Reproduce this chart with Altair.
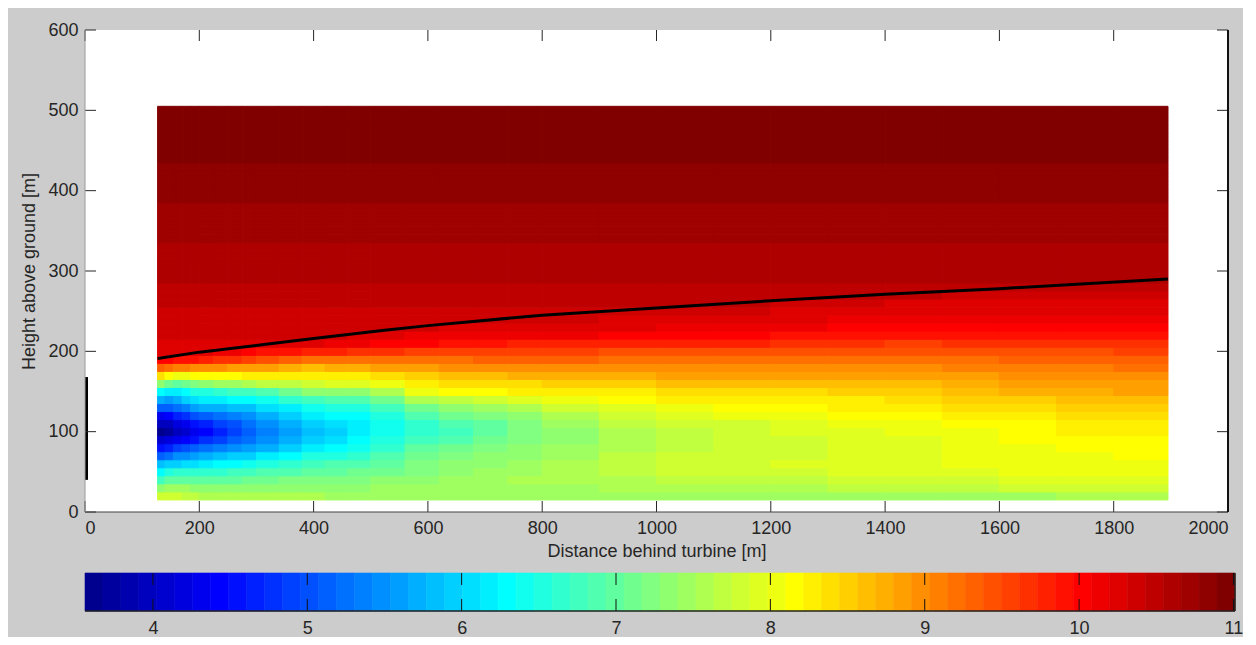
import altair as alt
import pandas as pd

# ---------------- values ----------------
x_ticks = [0, 200, 400, 600, 800, 1000, 1200, 1400, 1600, 1800, 2000]
y_ticks = [0, 100, 200, 300, 400, 500, 600]
cbar_ticks = [4, 5, 6, 7, 8, 9, 10, 11]
speed_range = [3.56, 11.01]          # colour limits of the colorbar [m/s]

# column boundaries of the wind-speed field (distance behind turbine, m)
column_edges = [127, 140, 155, 170, 185, 200, 225, 250, 275, 300, 340, 380, 420,
                460, 500, 560, 620, 680, 740, 800, 900, 1000, 1100, 1200, 1300,
                1400, 1500, 1600, 1700, 1800, 1895]
# centres of the 10 m rows of the field (15 .. 505 m)
row_heights = list(range(20, 510, 10))

# undisturbed (above the wake) wind speed profile
ambient_heights = list(range(190, 510, 10))
ambient_speed = [10.25, 10.28, 10.305, 10.335, 10.365, 10.395, 10.425, 10.46,
                 10.495, 10.53, 10.555, 10.58, 10.605, 10.63, 10.655, 10.68,
                 10.70, 10.725, 10.745, 10.77, 10.79, 10.81, 10.835, 10.855,
                 10.875, 10.895, 10.915, 10.93, 10.945, 10.96, 10.975, 10.99]

# wake profiles, one per column, from 20 m upward (rows above -> ambient)
wake_profiles = [
    [7.85, 7.35, 6.8, 6.25, 5.8, 5.1, 4.6, 4.1, 3.62, 3.95, 4.35, 5.1, 5.75, 6.3, 7.4, 8.35, 9.3, 10.0],
    [7.85, 7.5, 7.0, 6.5, 5.9, 5.3, 4.7, 4.15, 3.75, 3.98, 4.45, 5.1, 5.65, 6.15, 7.1, 8.1, 9.15, 10.0],
    [7.8, 7.5, 7.05, 6.6, 6.0, 5.43, 4.85, 4.3, 3.97, 4.15, 4.65, 5.25, 5.75, 6.2, 7.05, 8.05, 9.07, 9.95],
    [7.72, 7.41, 7.02, 6.6, 6.06, 5.52, 4.97, 4.45, 4.12, 4.33, 4.8, 5.4, 5.9, 6.35, 7.15, 8.08, 9.05, 9.92],
    [7.64, 7.34, 6.97, 6.6, 6.12, 5.6, 5.09, 4.58, 4.27, 4.51, 4.97, 5.57, 6.07, 6.48, 7.25, 8.13, 9.02, 9.87],
    [7.59, 7.3, 6.97, 6.63, 6.19, 5.7, 5.21, 4.74, 4.46, 4.69, 5.11, 5.68, 6.17, 6.58, 7.34, 8.16, 8.98, 9.8],
    [7.58, 7.3, 7.01, 6.68, 6.26, 5.8, 5.34, 4.91, 4.67, 4.86, 5.24, 5.74, 6.21, 6.64, 7.41, 8.19, 8.94, 9.72, 10.14],
    [7.57, 7.3, 7.04, 6.73, 6.34, 5.9, 5.46, 5.09, 4.89, 5.04, 5.36, 5.81, 6.24, 6.71, 7.49, 8.21, 8.91, 9.63, 10.09],
    [7.56, 7.3, 7.08, 6.78, 6.41, 6.0, 5.59, 5.26, 5.09, 5.21, 5.49, 5.87, 6.28, 6.77, 7.56, 8.24, 8.87, 9.54, 10.03],
    [7.55, 7.32, 7.13, 6.84, 6.52, 6.14, 5.76, 5.47, 5.32, 5.43, 5.68, 6.01, 6.4, 6.9, 7.65, 8.25, 8.81, 9.44, 9.96],
    [7.55, 7.36, 7.19, 6.92, 6.66, 6.32, 5.98, 5.71, 5.56, 5.69, 5.94, 6.23, 6.6, 7.1, 7.75, 8.25, 8.73, 9.32, 9.88],
    [7.55, 7.4, 7.25, 7.0, 6.8, 6.5, 6.2, 5.95, 5.8, 5.95, 6.2, 6.45, 6.8, 7.3, 7.85, 8.25, 8.65, 9.2, 9.8, 10.2],
    [7.51, 7.4, 7.25, 7.04, 6.86, 6.58, 6.32, 6.11, 5.98, 6.07, 6.26, 6.51, 6.84, 7.34, 7.87, 8.29, 8.69, 9.22, 9.76, 10.16],
    [7.47, 7.4, 7.25, 7.08, 6.92, 6.66, 6.44, 6.27, 6.16, 6.19, 6.32, 6.57, 6.88, 7.38, 7.89, 8.33, 8.73, 9.24, 9.72, 10.12, 10.25],
    [7.44, 7.42, 7.3, 7.16, 7.04, 6.84, 6.65, 6.49, 6.37, 6.39, 6.53, 6.78, 7.13, 7.6, 8.02, 8.41, 8.8, 9.25, 9.67, 10.07, 10.22],
    [7.41, 7.45, 7.39, 7.28, 7.22, 7.1, 6.95, 6.76, 6.61, 6.66, 6.9, 7.14, 7.58, 7.99, 8.26, 8.53, 8.89, 9.25, 9.61, 10.01, 10.16],
    [7.41, 7.46, 7.44, 7.35, 7.3, 7.21, 7.09, 6.93, 6.8, 6.85, 7.08, 7.33, 7.74, 8.1, 8.34, 8.6, 8.93, 9.26, 9.59, 9.95, 10.14, 10.29],
    [7.43, 7.48, 7.48, 7.41, 7.36, 7.29, 7.19, 7.08, 6.98, 7.03, 7.23, 7.48, 7.84, 8.16, 8.39, 8.66, 8.96, 9.28, 9.57, 9.89, 10.12, 10.27],
    [7.44, 7.49, 7.53, 7.47, 7.42, 7.36, 7.3, 7.23, 7.17, 7.22, 7.38, 7.63, 7.95, 8.22, 8.43, 8.72, 8.99, 9.29, 9.56, 9.83, 10.1, 10.25, 10.35],
    [7.44, 7.51, 7.58, 7.56, 7.53, 7.49, 7.44, 7.4, 7.36, 7.41, 7.56, 7.79, 8.05, 8.28, 8.49, 8.76, 9.0, 9.28, 9.53, 9.8, 10.09, 10.24, 10.34],
    [7.41, 7.54, 7.63, 7.69, 7.68, 7.66, 7.61, 7.6, 7.59, 7.64, 7.79, 7.96, 8.15, 8.33, 8.56, 8.79, 9.0, 9.23, 9.48, 9.8, 10.06, 10.21, 10.31],
    [7.41, 7.56, 7.67, 7.77, 7.78, 7.77, 7.73, 7.73, 7.74, 7.79, 7.93, 8.08, 8.22, 8.37, 8.61, 8.8, 9.0, 9.2, 9.44, 9.78, 10.03, 10.18, 10.28, 10.38],
    [7.42, 7.59, 7.71, 7.81, 7.84, 7.81, 7.79, 7.8, 7.81, 7.86, 7.99, 8.13, 8.26, 8.41, 8.62, 8.8, 9.0, 9.2, 9.43, 9.73, 9.98, 10.14, 10.24, 10.34],
    [7.43, 7.61, 7.74, 7.84, 7.88, 7.84, 7.82, 7.86, 7.89, 7.94, 8.06, 8.18, 8.29, 8.44, 8.63, 8.8, 9.0, 9.2, 9.41, 9.68, 9.93, 10.1, 10.2, 10.3, 10.4],
    [7.44, 7.64, 7.78, 7.88, 7.93, 7.89, 7.89, 7.93, 7.96, 8.02, 8.13, 8.23, 8.33, 8.48, 8.64, 8.8, 9.0, 9.2, 9.4, 9.62, 9.87, 10.06, 10.16, 10.26, 10.33],
    [7.46, 7.68, 7.82, 7.92, 7.96, 7.93, 7.93, 7.98, 8.03, 8.08, 8.18, 8.28, 8.39, 8.54, 8.68, 8.83, 9.02, 9.22, 9.41, 9.61, 9.86, 10.04, 10.14, 10.24, 10.29, 10.44],
    [7.49, 7.72, 7.86, 7.96, 7.99, 7.99, 8.0, 8.05, 8.09, 8.14, 8.24, 8.34, 8.46, 8.61, 8.74, 8.88, 9.06, 9.26, 9.44, 9.64, 9.87, 10.03, 10.13, 10.23, 10.28, 10.41],
    [7.51, 7.77, 7.89, 7.99, 8.01, 8.04, 8.06, 8.11, 8.16, 8.21, 8.31, 8.41, 8.54, 8.69, 8.81, 8.93, 9.09, 9.29, 9.46, 9.66, 9.88, 10.02, 10.12, 10.22, 10.27, 10.39],
    [7.54, 7.82, 7.93, 8.03, 8.04, 8.08, 8.12, 8.17, 8.22, 8.27, 8.37, 8.47, 8.61, 8.76, 8.86, 8.97, 9.13, 9.33, 9.49, 9.69, 9.89, 10.01, 10.11, 10.21, 10.26, 10.36, 10.45],
    [7.55, 7.85, 7.95, 8.05, 8.05, 8.1, 8.15, 8.2, 8.25, 8.3, 8.4, 8.5, 8.65, 8.8, 8.9, 9.0, 9.15, 9.35, 9.5, 9.7, 9.9, 10.0, 10.1, 10.2, 10.25, 10.35, 10.45],
]

# wake boundary (black curve)
boundary_x = [127, 200, 320, 400, 520, 600, 800, 1000, 1200, 1400, 1600, 1895]
boundary_z = [191, 199, 209, 216, 226, 232, 245, 254, 263, 271, 278, 290]

# turbine rotor (black bar at x = 0)
rotor_x = [0]
rotor_bottom = [40]
rotor_top = [168]


# ---------------- colormap (MATLAB jet, 64 levels) ----------------
def jet_colors(m=64):
    n = -(-m // 4)
    u = [(i + 1) / n for i in range(n)] + [1.0] * (n - 1) + [(n - i) / n for i in range(n)]
    g0 = -(-n // 2) - (1 if m % 4 == 1 else 0)
    rgb = [[0.0, 0.0, 0.0] for _ in range(m)]
    for k, val in enumerate(u, start=1):
        g = g0 + k
        for ch, row in ((0, g + n), (1, g), (2, g - n)):
            if 1 <= row <= m:
                rgb[row - 1][ch] = val
    return ["#%02x%02x%02x" % tuple(round(c * 255) for c in col) for col in rgb]


JET = jet_colors(64)

# ---------------- tables ----------------
cells = []
for i, prof in enumerate(wake_profiles):
    for j, h in enumerate(row_heights):
        v = prof[j] if j < len(prof) else ambient_speed[ambient_heights.index(h)]
        cells.append({"x": column_edges[i], "xe": column_edges[i + 1],
                      "z": h - 5, "ze": h + 5, "speed": v})
field_df = pd.DataFrame(cells)
boundary_df = pd.DataFrame({"x": boundary_x, "z": boundary_z})
rotor_df = pd.DataFrame({"x": rotor_x, "z": rotor_bottom, "ze": rotor_top})
xtick_df = pd.DataFrame({"x": x_ticks})
ytick_df = pd.DataFrame({"z": y_ticks})

step = (speed_range[1] - speed_range[0]) / len(JET)
cbar_df = pd.DataFrame({
    "lo": [speed_range[0] + k * step for k in range(len(JET))],
    "hi": [speed_range[0] + (k + 1) * step for k in range(len(JET))],
    "col": JET,
})
cbtick_df = pd.DataFrame({"lo": cbar_ticks})

# ---------------- styling ----------------
FONT = "Liberation Sans"
TXT = "#262626"
W, H = 1143, 482
CW, CH = 1150, 38
TL = 11

xs = alt.Scale(domain=[0, 2000], nice=False, zero=False)
ys = alt.Scale(domain=[0, 600], nice=False, zero=False)
cscale = alt.Scale(type="quantize", domain=speed_range, range=JET, nice=False, zero=False)

x_axis = alt.Axis(values=x_ticks, format="d", labelPadding=7, titlePadding=5)
y_axis = alt.Axis(values=y_ticks, format="d", labelPadding=7, titlePadding=9)
XT = "Distance behind turbine [m]"
YT = "Height above ground [m]"


def X(f="x"):
    return alt.X(f"{f}:Q", scale=xs, axis=x_axis, title=XT)


def Y(f="z"):
    return alt.Y(f"{f}:Q", scale=ys, axis=y_axis, title=YT)


heat = alt.Chart(field_df).mark_rect(strokeWidth=1).encode(
    x=X(), x2="xe:Q", y=Y(), y2="ze:Q",
    color=alt.Color("speed:Q", scale=cscale, legend=None),
    stroke=alt.Stroke("speed:Q", scale=cscale, legend=None),
)
boundary = alt.Chart(boundary_df).mark_line(color="black", strokeWidth=3).encode(x=X(), y=Y())
rotor = alt.Chart(rotor_df).mark_rule(color="black", strokeWidth=6, clip=True).encode(
    x=X(), y=Y(), y2="ze:Q")

tick_bottom = alt.Chart(xtick_df).mark_rule(color=TXT, strokeWidth=1).encode(
    x=X(), y=alt.value(H), y2=alt.value(H - TL))
tick_top = alt.Chart(xtick_df).mark_rule(color=TXT, strokeWidth=1).encode(
    x=X(), y=alt.value(0), y2=alt.value(TL))
tick_left = alt.Chart(ytick_df).mark_rule(color=TXT, strokeWidth=1).encode(
    y=Y(), x=alt.value(0), x2=alt.value(TL))
tick_right = alt.Chart(ytick_df).mark_rule(color=TXT, strokeWidth=1).encode(
    y=Y(), x=alt.value(W), x2=alt.value(W - TL))
frame_bottom = alt.Chart(rotor_df).mark_rule(color="#444444", strokeWidth=1.2).encode(
    x=alt.value(0), x2=alt.value(W), y=alt.value(H))
frame_right = alt.Chart(rotor_df).mark_rule(color="#111111", strokeWidth=2).encode(
    x=alt.value(W), y=alt.value(0), y2=alt.value(H))
frame_left = alt.Chart(rotor_df).mark_rule(color="#9a9a9a", strokeWidth=1).encode(
    x=alt.value(0), y=alt.value(0), y2=alt.value(H))

main = alt.layer(heat, boundary, rotor, tick_bottom, tick_top, tick_left, tick_right,
                 frame_bottom, frame_right, frame_left).properties(width=W, height=H)

cxs = alt.Scale(domain=speed_range, nice=False, zero=False)
cx_axis = alt.Axis(values=cbar_ticks, format="d", labelPadding=8)


def CX(f="lo"):
    return alt.X(f"{f}:Q", scale=cxs, axis=cx_axis, title=None)


cb_rect = alt.Chart(cbar_df).mark_rect(strokeWidth=0.6).encode(
    x=CX(), x2="hi:Q",
    color=alt.Color("col:N", scale=None, legend=None),
    stroke=alt.Stroke("col:N", scale=None, legend=None),
)
cb_tick_top = alt.Chart(cbtick_df).mark_rule(color="#111111", strokeWidth=1).encode(
    x=CX(), y=alt.value(0), y2=alt.value(12))
cb_tick_bot = alt.Chart(cbtick_df).mark_rule(color="#111111", strokeWidth=1).encode(
    x=CX(), y=alt.value(CH - 12), y2=alt.value(CH))
cb_frame_bottom = alt.Chart(rotor_df).mark_rule(color="#222222", strokeWidth=1.5).encode(
    x=alt.value(0), x2=alt.value(CW), y=alt.value(CH))
cb_frame_right = alt.Chart(rotor_df).mark_rule(color="#222222", strokeWidth=1.5).encode(
    x=alt.value(CW), y=alt.value(0), y2=alt.value(CH))

cbar = alt.layer(cb_rect, cb_tick_top, cb_tick_bot, cb_frame_bottom, cb_frame_right).properties(
    width=CW, height=CH)

chart = alt.vconcat(main, cbar, spacing=61, bounds="flush").properties(
    background="#cccccc",
    padding={"left": 12, "top": 13, "right": 0, "bottom": 0},
).configure_view(
    stroke=None, fill="white"
).configure_axis(
    labelFont=FONT, labelFontSize=18, labelColor=TXT,
    titleFont=FONT, titleFontSize=18, titleFontWeight="normal", titleColor=TXT,
    grid=False, ticks=False, domain=False,
)

chart.save("out.html", embed_options={"renderer": "svg", "actions": False})
